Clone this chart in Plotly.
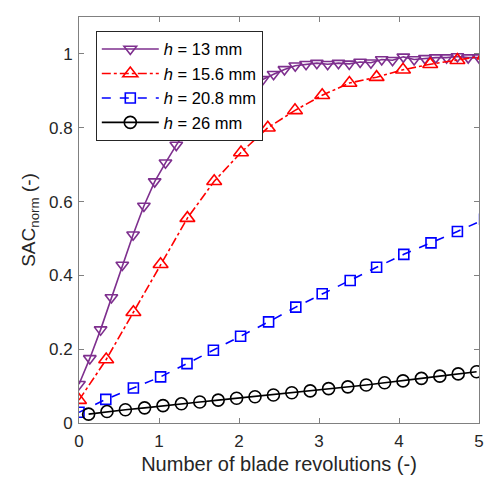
import plotly.graph_objects as go

# h = 13 mm (purple, down triangles)
x13 = [0.0, 0.135, 0.270, 0.405, 0.541, 0.676, 0.811, 0.946, 1.081, 1.216, 1.351, 1.486, 1.622,
       1.757, 1.892, 2.027, 2.162, 2.297, 2.432, 2.568, 2.703, 2.838, 2.973, 3.108, 3.243, 3.378,
       3.514, 3.649, 3.784, 3.919, 4.054, 4.189, 4.324, 4.459, 4.595, 4.730, 4.865, 5.0]
y13 = [0.105, 0.175, 0.253, 0.340, 0.428, 0.510, 0.588, 0.654, 0.705, 0.753, 0.796, 0.830, 0.860,
       0.882, 0.900, 0.915, 0.925, 0.931, 0.945, 0.958, 0.968, 0.972, 0.975, 0.972, 0.975, 0.973,
       0.978, 0.976, 0.985, 0.983, 0.992, 0.985, 0.988, 0.990, 0.990, 0.993, 0.990, 0.990]

# h = 15.6 mm (red, up triangles)
x156 = [0.0, 0.34, 0.68, 1.02, 1.355, 1.69, 2.025, 2.36, 2.70, 3.04, 3.38, 3.72, 4.05, 4.39, 4.73, 5.07]
y156 = [0.062, 0.172, 0.300, 0.430, 0.555, 0.655, 0.733, 0.800, 0.847, 0.888, 0.921, 0.937, 0.957,
        0.972, 0.983, 0.995]

# h = 20.8 mm (blue, squares)
x208 = [0.0, 0.335, 0.68, 1.02, 1.35, 1.68, 2.02, 2.37, 2.71, 3.04, 3.39, 3.72, 4.06, 4.40, 4.73, 5.07]
y208 = [0.029, 0.064, 0.095, 0.125, 0.161, 0.197, 0.235, 0.274, 0.314, 0.350, 0.386, 0.422, 0.457,
        0.488, 0.519, 0.552]

# h = 26 mm (black, circles)
x26 = [0.12, 0.35, 0.58, 0.82, 1.05, 1.28, 1.51, 1.74, 1.97, 2.20, 2.43, 2.66, 2.89, 3.12, 3.36,
       3.59, 3.82, 4.05, 4.28, 4.51, 4.74, 4.97]
y26 = [0.024, 0.031, 0.036, 0.041, 0.047, 0.052, 0.057, 0.062, 0.067, 0.071, 0.076, 0.082, 0.087,
       0.093, 0.098, 0.103, 0.109, 0.114, 0.121, 0.127, 0.133, 0.139]

names = ["<i>h</i> = 13 mm", "<i>h</i> = 15.6 mm", "<i>h</i> = 20.8 mm", "<i>h</i> = 26 mm"]
xtick_vals = [0, 1, 2, 3, 4, 5]
ytick_vals = [0, 0.2, 0.4, 0.6, 0.8, 1]
ytick_text = ["0", "0.2", "0.4", "0.6", "0.8", "1"]

FONT = "Liberation Sans, Arial, sans-serif"

fig = go.Figure()
fig.add_trace(go.Scatter(x=x13, y=y13, name=names[0], mode="lines+markers",
                         line=dict(color="#7E2F8E", width=1.6, dash="solid"),
                         marker=dict(symbol="triangle-down-open", size=11, color="#7E2F8E",
                                     line=dict(width=1.6, color="#7E2F8E"))))
fig.add_trace(go.Scatter(x=x156, y=y156, name=names[1], mode="lines+markers",
                         line=dict(color="#FF0000", width=1.6, dash="dashdot"),
                         marker=dict(symbol="triangle-up-open", size=13, color="#FF0000",
                                     line=dict(width=1.6, color="#FF0000"))))
fig.add_trace(go.Scatter(x=x208, y=y208, name=names[2], mode="lines+markers",
                         line=dict(color="#0000FF", width=1.6, dash="dash"),
                         marker=dict(symbol="square-open", size=10, color="#0000FF",
                                     line=dict(width=1.6, color="#0000FF"))))
fig.add_trace(go.Scatter(x=x26, y=y26, name=names[3], mode="lines+markers",
                         line=dict(color="#000000", width=1.6, dash="solid"),
                         marker=dict(symbol="circle-open", size=12, color="#000000",
                                     line=dict(width=1.6, color="#000000"))))

axis_common = dict(showline=True, linecolor="#808080", linewidth=1, mirror="ticks",
                   ticks="inside", ticklen=5, tickcolor="#808080", showgrid=False,
                   zeroline=False, tickfont=dict(family=FONT, size=17, color="#262626"))

fig.update_xaxes(range=[0, 5], tickvals=xtick_vals, ticklabelstandoff=3,
                 title=dict(text="Number of blade revolutions (-)", standoff=6,
                            font=dict(family=FONT, size=20, color="#262626")),
                 **axis_common)
fig.update_yaxes(range=[0, 1.1], tickvals=ytick_vals, ticktext=ytick_text,
                 ticklabelstandoff=2,
                 title=dict(text="SAC<sub>norm</sub> (-)", standoff=8,
                            font=dict(family=FONT, size=19, color="#262626")),
                 **axis_common)

fig.update_layout(
    width=490, height=479,
    margin=dict(l=79, r=6, t=17, b=56),
    paper_bgcolor="white", plot_bgcolor="white",
    font=dict(family=FONT, color="#262626"),
    showlegend=True,
    legend=dict(x=0.042, y=0.966, xanchor="left", yanchor="top",
                bgcolor="white", bordercolor="#262626", borderwidth=1,
                font=dict(family=FONT, size=16.5, color="#000000"),
                itemwidth=57, tracegroupgap=0),
)

fig.write_html("out.html")
